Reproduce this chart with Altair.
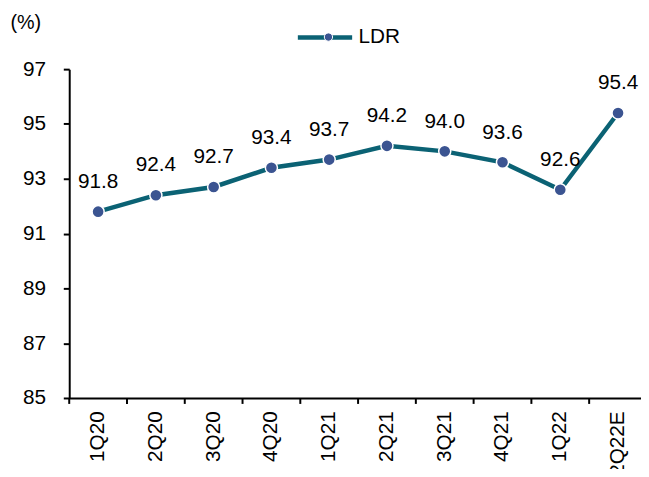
import altair as alt
import pandas as pd

quarters = ["1Q20", "2Q20", "3Q20", "4Q20", "1Q21", "2Q21", "3Q21", "4Q21", "1Q22", "2Q22E"]
ldr = [91.8, 92.4, 92.7, 93.4, 93.7, 94.2, 94.0, 93.6, 92.6, 95.4]
series_name = "LDR"
y_ticks = [85, 87, 89, 91, 93, 95, 97]
unit_label = "(%)"

df = pd.DataFrame({
    "quarter": quarters,
    "ldr": ldr,
    "series": [series_name] * len(quarters),
    "series_pt": [series_name] * len(quarters),
})

FONT = "Liberation Sans"
LINE_C = "#0b6274"
PT_C = "#3b5491"

xs = alt.Scale(type="band", domain=quarters, range=[0, 585], paddingInner=0, paddingOuter=0)
ys = alt.Scale(domain=[85, 97], nice=False, zero=False)

base = alt.Chart(df)

line = base.mark_line(strokeWidth=4.5).encode(
    x=alt.X("quarter:N", scale=xs, sort=quarters,
            axis=alt.Axis(title=None, ticks=False, labelAngle=-90, labelAlign="right",
                          labelBaseline="middle", labelPadding=13, labelFontSize=21,
                          labelFont=FONT, labelColor="black", domainColor="black",
                          domainWidth=2)),
    y=alt.Y("ldr:Q", scale=ys,
            axis=alt.Axis(title=unit_label, titleAngle=0, titleAlign="left",
                          titleBaseline="middle", titleX=-60, titleY=-47,
                          titleFontSize=20, titleFont=FONT, titleFontWeight="normal",
                          titleColor="black",
                          values=y_ticks, grid=False, tickSize=6, tickWidth=2,
                          tickColor="black", domainColor="black", domainWidth=2,
                          labelPadding=18, labelFontSize=21, labelFont=FONT,
                          labelColor="black")),
    color=alt.Color("series:N", scale=alt.Scale(domain=[series_name], range=[LINE_C]),
                    legend=alt.Legend(title=None, orient="none", legendX=229, legendY=-62,
                                      symbolType="stroke", symbolSize=3025,
                                      symbolStrokeWidth=4.5, labelFontSize=21,
                                      labelFont=FONT, labelColor="black", padding=0,
                                      labelOffset=4)),
)

pts = base.mark_point(filled=True, size=150, stroke="white", strokeWidth=1.5, opacity=1).encode(
    x=alt.X("quarter:N", scale=xs, sort=quarters),
    y=alt.Y("ldr:Q", scale=ys),
    fill=alt.Fill("series_pt:N", scale=alt.Scale(domain=[series_name], range=[PT_C]),
                  legend=alt.Legend(title=None, orient="none", legendX=253, legendY=-42,
                                    symbolType="circle", symbolSize=70,
                                    symbolStrokeColor="white", symbolStrokeWidth=1,
                                    labelExpr="''", labelFontSize=19, labelFont=FONT,
                                    padding=0)),
)

labels = base.mark_text(dy=-30, fontSize=21, font=FONT, color="black").encode(
    x=alt.X("quarter:N", scale=xs, sort=quarters),
    y=alt.Y("ldr:Q", scale=ys),
    text=alt.Text("ldr:Q", format=".1f"),
)

ticks = base.mark_rule(color="black", strokeWidth=2).encode(
    x=alt.X("quarter:N", scale=xs, sort=quarters, bandPosition=0),
    y=alt.value(333),
    y2=alt.value(339),
)

chart = alt.layer(ticks, line, pts, labels).properties(
    width=579,
    height=333,
    autosize=alt.AutoSizeParams(type="none"),
    padding={"left": 62, "top": 59, "right": 0, "bottom": 69},
).configure_view(stroke=None).resolve_scale(color="independent", fill="independent")

chart.save("out.html", embed_options={"renderer": "svg", "actions": False})
